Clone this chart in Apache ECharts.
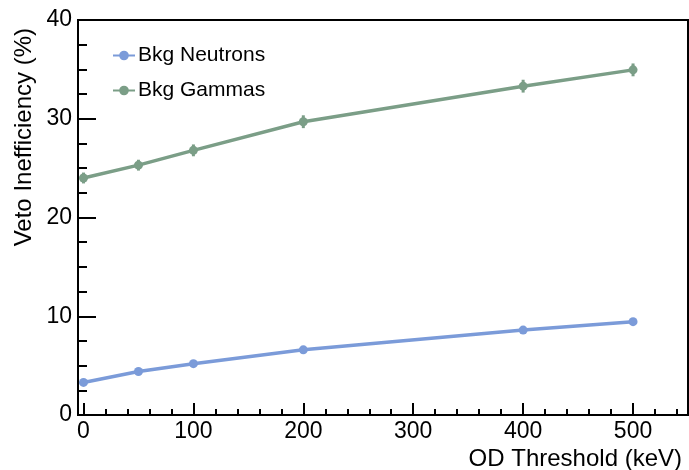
<!DOCTYPE html>
<html>
<head>
<meta charset="utf-8">
<script src="https://cdn.jsdelivr.net/npm/echarts@6/dist/echarts.min.js"></script>
<style>
html,body{margin:0;padding:0;background:#fff;}
#c{width:689px;height:470px;}
</style>
</head>
<body>
<div id="c"></div>
<script>
// ---- data ----
var thresholds = [0, 50, 100, 200, 400, 500];
var neutrons = [3.3, 4.4, 5.2, 6.6, 8.6, 9.45];
var neutronErr = [0.3, 0.3, 0.3, 0.3, 0.3, 0.3];
var gammas = [24.0, 25.3, 26.8, 29.7, 33.3, 34.95];
var gammaErr = [0.55, 0.55, 0.6, 0.65, 0.65, 0.65];
var xTickLabels = [0, 100, 200, 300, 400, 500];
var xMinorTicks = [20, 40, 60, 80, 120, 140, 160, 180, 220, 240, 260, 280, 320, 340, 360, 380, 420, 440, 460, 480, 520, 540];
var seriesNames = ['Bkg Neutrons', 'Bkg Gammas'];
var xTitle = 'OD Threshold (keV)';
var yTitle = 'Veto Inefficiency (%)';

var cN = '#7b9bd9';
var cG = '#7b9e87';
var FONT = "'Liberation Sans', Arial, Helvetica, sans-serif";

function pairs(xs, ys) { return xs.map(function (x, i) { return [x, ys[i]]; }); }
function errData(xs, ys, es) { return xs.map(function (x, i) { return [x, ys[i], es[i]]; }); }
function errSeries(data, color) {
  return {
    type: 'custom', xAxisIndex: 0, yAxisIndex: 0, silent: true, z: 3,
    data: data,
    renderItem: function (params, api) {
      var x = api.value(0), y = api.value(1), e = api.value(2);
      var p1 = api.coord([x, y - e]), p2 = api.coord([x, y + e]);
      return { type: 'line', shape: { x1: p1[0], y1: p1[1], x2: p2[0], y2: p2[1] }, style: { stroke: color, lineWidth: 3 } };
    }
  };
}

var chart = echarts.init(document.getElementById('c'), null, { renderer: 'canvas' });
chart.setOption({
  animation: false,
  backgroundColor: '#fff',
  grid: { left: 78, right: 1, top: 20, bottom: 55, show: true, borderColor: '#000', borderWidth: 2, backgroundColor: 'transparent' },
  legend: {
    orient: 'vertical', left: 107, top: 40,
    itemWidth: 22, itemHeight: 12, itemGap: 14,
    textStyle: { fontFamily: FONT, fontSize: 21, color: '#000', padding: [0, 0, 0, -2] },
    data: seriesNames
  },
  xAxis: [{
    type: 'value', min: -5, max: 550, position: 'bottom',
    axisLine: { show: true, onZero: false, lineStyle: { color: '#000', width: 2 } },
    axisTick: { show: true, inside: true, length: 12, lineStyle: { color: '#000', width: 2 }, customValues: xTickLabels },
    axisLabel: { fontFamily: FONT, fontSize: 23, color: '#000', margin: 5, customValues: xTickLabels },
    splitLine: { show: false }
  }, {
    type: 'value', min: -5, max: 550, position: 'bottom', gridIndex: 0,
    axisLine: { show: false },
    axisTick: { show: true, inside: true, length: 6, lineStyle: { color: '#000', width: 2 }, customValues: xMinorTicks },
    axisLabel: { show: false },
    splitLine: { show: false }
  }],
  yAxis: {
    type: 'value', min: 0, max: 40, interval: 10,
    axisLine: { show: true, onZero: false, lineStyle: { color: '#000', width: 2 } },
    axisTick: { show: true, inside: true, length: 18, lineStyle: { color: '#000', width: 2 } },
    minorTick: { show: true, splitNumber: 4, length: 9, lineStyle: { color: '#000', width: 2 } },
    axisLabel: { fontFamily: FONT, fontSize: 23, color: '#000', margin: 6 },
    splitLine: { show: false }
  },
  graphic: [
    { type: 'text', x: 682, y: 459, style: { text: xTitle, font: '24px ' + FONT, fill: '#000', textAlign: 'right', textVerticalAlign: 'middle' } },
    { type: 'text', x: 24, y: 28, rotation: Math.PI / 2, style: { text: yTitle, font: '24px ' + FONT, fill: '#000', textAlign: 'right', textVerticalAlign: 'middle' } }
  ],
  series: [
    { name: seriesNames[0], type: 'line', data: pairs(thresholds, neutrons), symbol: 'circle', symbolSize: 9, color: cN, lineStyle: { width: 3.5, color: cN }, itemStyle: { color: cN }, z: 4 },
    { name: seriesNames[1], type: 'line', data: pairs(thresholds, gammas), symbol: 'circle', symbolSize: 9, color: cG, lineStyle: { width: 3.5, color: cG }, itemStyle: { color: cG }, z: 4 },
    errSeries(errData(thresholds, neutrons, neutronErr), cN),
    errSeries(errData(thresholds, gammas, gammaErr), cG)
  ]
});
</script>
</body>
</html>
